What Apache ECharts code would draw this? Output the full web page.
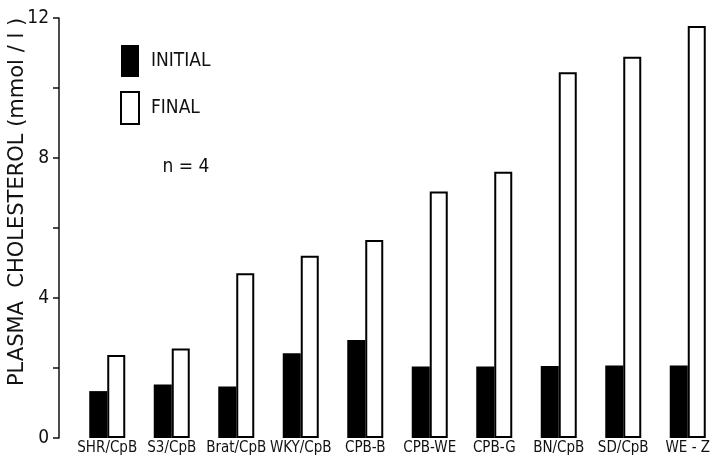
<!DOCTYPE html>
<html>
<head>
<meta charset="utf-8">
<script src="https://cdn.jsdelivr.net/npm/echarts@6/dist/echarts.min.js"></script>
<style>
  html, body { margin: 0; padding: 0; background: #fff; }
  #chart { width: 720px; height: 459px; }
</style>
</head>
<body>
<div id="chart"></div>
<script>
// Plasma cholesterol per strain/diet group, initial vs final (mmol/l)
const groups = ['SHR/CpB', 'S3/CpB', 'Brat/CpB', 'WKY/CpB', 'CPB-B', 'CPB-WE', 'CPB-G', 'BN/CpB', 'SD/CpB', 'WE - Z'];
const initialValues = [1.34, 1.53, 1.47, 2.42, 2.80, 2.04, 2.04, 2.06, 2.07, 2.07];
const finalValues = [2.37, 2.56, 4.71, 5.21, 5.66, 7.04, 7.61, 10.45, 10.89, 11.77];
const yTicks = [0, 4, 8, 12];

const NARROW = '"DejaVu Sans Condensed", "Liberation Sans Narrow", sans-serif';
const WIDE = '"DejaVu Sans", "Liberation Sans", sans-serif';

const chart = echarts.init(document.getElementById('chart'), null, { renderer: 'canvas' });

chart.setOption({
  backgroundColor: '#ffffff',
  animation: false,
  textStyle: { fontFamily: NARROW, color: '#111' },
  grid: { left: 75, right: -13, top: 18, bottom: 21, containLabel: false },
  legend: {
    orient: 'vertical',
    left: 120,
    top: 45,
    padding: 0,
    itemWidth: 18,
    itemHeight: 32,
    itemGap: 14,
    icon: 'rect',
    textStyle: { fontFamily: NARROW, fontSize: 19, color: '#111', padding: [0, 0, 0, 7] },
    data: ['INITIAL', 'FINAL']
  },
  xAxis: {
    type: 'category',
    data: groups,
    axisLine: { show: false },
    axisTick: { show: false },
    axisLabel: { interval: 0, fontFamily: NARROW, fontSize: 15, color: '#111', margin: 3 }
  },
  yAxis: {
    type: 'value',
    min: 0,
    max: 12,
    interval: 2,
    offset: 16,
    axisLine: { show: true, lineStyle: { color: '#111', width: 1.5 } },
    axisTick: { show: true, length: 6, lineStyle: { color: '#111', width: 1.5 } },
    splitLine: { show: false },
    axisLabel: {
      fontFamily: NARROW, fontSize: 19, color: '#111', margin: 10,
      formatter: v => (yTicks.indexOf(v) >= 0 ? String(v) : '')
    }
  },
  graphic: [
    {
      type: 'text',
      x: 18, y: 202,
      rotation: Math.PI / 2,
      style: {
        text: 'PLASMA  CHOLESTEROL (mmol / l )',
        fontFamily: WIDE, fontSize: 21, fill: '#111',
        textAlign: 'center', textVerticalAlign: 'middle'
      }
    },
    {
      type: 'text',
      x: 186, y: 167,
      style: {
        text: 'n = 4',
        fontFamily: NARROW, fontSize: 19, fill: '#111',
        textAlign: 'center', textVerticalAlign: 'middle'
      }
    }
  ],
  series: [
    {
      name: 'INITIAL',
      type: 'bar',
      barWidth: 18,
      barGap: '0%',
      itemStyle: { color: '#000' },
      data: initialValues
    },
    {
      name: 'FINAL',
      type: 'bar',
      barWidth: 18,
      itemStyle: { color: '#fff', borderColor: '#000', borderWidth: 2 },
      data: finalValues
    }
  ]
});
</script>
</body>
</html>
